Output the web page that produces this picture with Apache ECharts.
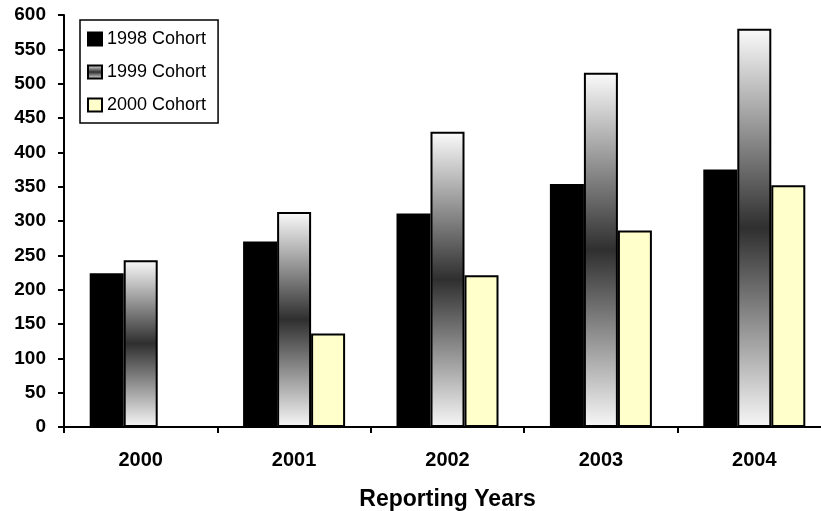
<!DOCTYPE html>
<html>
<head>
<meta charset="utf-8">
<script src="https://cdn.jsdelivr.net/npm/echarts@6/dist/echarts.min.js"></script>
<style>
html,body{margin:0;padding:0;background:#fff;}
#chart{width:821px;height:511px;}
</style>
</head>
<body>
<div id="chart"></div>
<script>
const categories = ['2000', '2001', '2002', '2003', '2004'];
const cohort1998 = [224, 270, 311, 354, 375];
const cohort1999 = [243, 313, 430, 516, 580];
const cohort2000 = [null, 136, 221, 286, 352];
const seriesNames = ['1998 Cohort', '1999 Cohort', '2000 Cohort'];
const yTicks = {min: 0, max: 600, interval: 50};
const xAxisTitle = 'Reporting Years';

const FONT = '"Liberation Sans", Arial, sans-serif';
const gradientFill = new echarts.graphic.LinearGradient(0, 0, 0, 1, [
  {offset: 0, color: '#fbfbfb'},
  {offset: 0.5, color: '#2f2f2f'},
  {offset: 1, color: '#f7f7f7'}
]);

const chart = echarts.init(document.getElementById('chart'), null, {renderer: 'canvas'});
chart.setOption({
  animation: false,
  backgroundColor: '#ffffff',
  textStyle: {fontFamily: FONT},
  grid: {left: 64, top: 15, width: 767, height: 412, containLabel: false, outerBoundsMode: 'none'},
  legend: {
    orient: 'vertical',
    left: 80,
    top: 20,
    padding: [10, 12, 9, 7],
    itemGap: 15,
    itemWidth: 14,
    itemHeight: 13,
    borderColor: '#000',
    borderWidth: 1.5,
    icon: 'rect',
    textStyle: {fontFamily: FONT, fontSize: 18, color: '#000'},
    data: seriesNames
  },
  xAxis: {
    type: 'category',
    data: categories,
    boundaryGap: true,
    axisLine: {lineStyle: {color: '#000', width: 2}},
    axisTick: {show: true, length: 6, inside: false, lineStyle: {color: '#000', width: 2}},
    axisLabel: {color: '#000', fontWeight: 'bold', fontSize: 20, fontFamily: FONT, margin: 23},
    name: xAxisTitle,
    nameLocation: 'middle',
    nameGap: 61,
    nameTextStyle: {color: '#000', fontWeight: 'bold', fontSize: 23, fontFamily: FONT},
    splitLine: {show: false}
  },
  yAxis: {
    type: 'value',
    min: yTicks.min,
    max: yTicks.max,
    interval: yTicks.interval,
    axisLine: {show: true, lineStyle: {color: '#000', width: 2}},
    axisTick: {show: true, length: 6, lineStyle: {color: '#000', width: 2}},
    axisLabel: {color: '#000', fontWeight: 'bold', fontSize: 19, fontFamily: FONT, margin: 18},
    splitLine: {show: false}
  },
  series: [
    {
      name: seriesNames[0], type: 'bar', data: cohort1998,
      barWidth: 34, barGap: '0%',
      itemStyle: {color: '#000', borderColor: '#000', borderWidth: 1.5}
    },
    {
      name: seriesNames[1], type: 'bar', data: cohort1999,
      barWidth: 34, barGap: '0%',
      itemStyle: {color: gradientFill, borderColor: '#000', borderWidth: 2}
    },
    {
      name: seriesNames[2], type: 'bar', data: cohort2000,
      barWidth: 34, barGap: '0%',
      itemStyle: {color: '#ffffcc', borderColor: '#000', borderWidth: 2}
    }
  ]
});
</script>
</body>
</html>
